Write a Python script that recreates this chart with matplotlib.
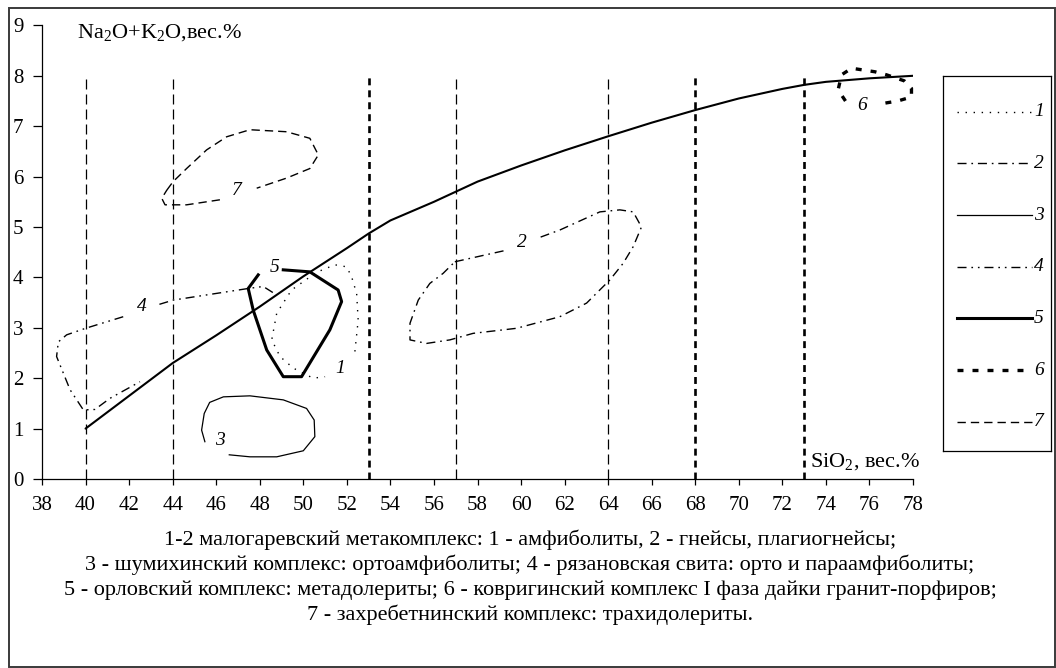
import matplotlib
matplotlib.use("Agg")
import matplotlib.pyplot as plt
from matplotlib.patches import Rectangle

plt.rcParams["font.family"] = ["Liberation Serif", "DejaVu Serif"]
plt.rcParams["mathtext.fontset"] = "custom"
plt.rcParams["mathtext.rm"] = "Liberation Serif"
plt.rcParams["mathtext.it"] = "Liberation Serif:italic"
plt.rcParams["lines.scale_dashes"] = False

nan = float("nan")

# SiO2 boundaries (wt.%), drawn up to 8 wt.% alkalis
thin_bounds = [40, 44, 57, 64]
thick_bounds = [53, 68, 73]
bound_top = 8

# alkali trend line
trend_si = [40, 42, 44, 46, 48, 50, 52, 53, 54, 56, 57, 58, 60, 62, 64, 66, 68, 70, 72, 73, 74, 76, 78]
trend_alk = [1.0, 1.65, 2.3, 2.85, 3.42, 4.02, 4.58, 4.87, 5.13, 5.5, 5.7, 5.9, 6.22, 6.52, 6.8, 7.07, 7.32,
             7.55, 7.74, 7.82, 7.88, 7.95, 8.0]

# 1 - amphibolites
f1_si = [52.37, 52.52, 52.45, 52.22, 51.99, 51.45, 50.6, 49.46, 48.78, 48.55, 48.93, 49.54, 50.45, 51.0]
f1_alk = [2.53, 3.15, 3.68, 4.01, 4.21, 4.25, 4.1, 3.75, 3.29, 2.76, 2.43, 2.2, 2.0, 2.03]

# 2 - gneisses
f2_si = [56.96, 59.33, nan, 60.9, 61.78, 63.62, 64.54, 65.15, 65.53, 65.15, 64.69, 64.08, 63.01, 61.78,
         59.79, 57.8, 56.73, 55.66, 54.9, 54.9, 55.28, 55.81, 56.42, 56.96]
f2_alk = [4.31, 4.54, nan, 4.8, 4.94, 5.3, 5.34, 5.3, 5.0, 4.61, 4.28, 3.95, 3.49, 3.22,
          2.99, 2.89, 2.76, 2.69, 2.76, 3.09, 3.55, 3.88, 4.08, 4.31]

# 3 - orthoamphibolites
f3_si = [45.48, 45.33, 45.45, 45.7, 46.33, 47.55, 49.08, 50.15, 50.5, 50.53, 50.0, 48.78, 47.55, 46.6]
f3_alk = [0.74, 0.97, 1.3, 1.52, 1.63, 1.65, 1.57, 1.4, 1.17, 0.84, 0.56, 0.44, 0.44, 0.48]

# 4 - ortho- and para-amphibolites
f4_si = [48.6, 48.16, 47.47, 44.03, 43.27, nan, 41.73, 40.0, 39.13, 38.75, 38.67, 39.29, 39.9, 40.43,
         41.12, 42.5]
f4_alk = [3.7, 3.82, 3.78, 3.55, 3.45, nan, 3.22, 2.99, 2.86, 2.72, 2.43, 1.77, 1.37, 1.38, 1.6, 1.93]

# 5 - metadolerites
f5_si = [49.08, 50.3, 51.6, 51.76, 51.22, 49.92, 49.08, 48.32, 47.7, 47.47, 47.93]
f5_alk = [4.15, 4.11, 3.75, 3.52, 2.96, 2.03, 2.03, 2.56, 3.35, 3.78, 4.05]

# 6 - granite-porphyry dykes
f6_si = [74.9, 74.56, 74.72, 75.18, 76.25, 76.78, 77.6, 77.93, 77.93, 77.3, 76.6]
f6_alk = [7.5, 7.72, 8.02, 8.15, 8.08, 8.02, 7.9, 7.75, 7.58, 7.5, 7.45]

# 7 - trachydolerites
f7_si = [43.73, 44.02, 44.64, 45.56, 46.48, 47.55, 49.23, 50.3, 50.69, 50.3, 49.23, 47.86, nan,
         46.17, 44.64, 43.65, 43.5, 43.73]
f7_alk = [5.73, 5.9, 6.16, 6.53, 6.79, 6.93, 6.89, 6.76, 6.43, 6.16, 5.97, 5.77, nan,
          5.54, 5.44, 5.44, 5.57, 5.73]

field_names = ["1", "2", "3", "4", "5", "6", "7"]
field_si = [f1_si, f2_si, f3_si, f4_si, f5_si, f6_si, f7_si]
field_alk = [f1_alk, f2_alk, f3_alk, f4_alk, f5_alk, f6_alk, f7_alk]
label_si = [51.7, 60.05, 46.15, 42.6, 48.7, 75.64, 46.94]
label_alk = [2.2, 4.7, 0.76, 3.42, 4.2, 7.42, 5.73]

styles = [
    dict(lw=1.0, ls=(0, (1.0, 4.8))),
    dict(lw=1.0, ls=(0, (6.5, 3.5, 1.2, 3.5))),
    dict(lw=0.9, ls="-"),
    dict(lw=1.0, ls=(0, (6.5, 3.5, 1.2, 3.5, 1.2, 3.5))),
    dict(lw=2.2, ls="-"),
    dict(lw=2.4, ls=(0, (4.3, 6.5))),
    dict(lw=1.0, ls=(0, (6.0, 3.6))),
]

ticks_x = list(range(38, 79, 2))
ticks_y = list(range(0, 10))

caption = [
    "1-2 малогаревский метакомплекс: 1 - амфиболиты, 2 - гнейсы, плагиогнейсы;",
    "3 - шумихинский комплекс: ортоамфиболиты; 4 - рязановская свита: орто и параамфиболиты;",
    "5 - орловский комплекс: метадолериты; 6 - ковригинский комплекс I фаза дайки гранит-порфиров;",
    "7 - захребетнинский комплекс: трахидолериты.",
]

W, H = 1056, 668


def px_box(x0, y0, w, h):
    return [x0 / W, 1 - (y0 + h) / H, w / W, h / H]


fig = plt.figure(figsize=(W / 100, H / 100), dpi=100)
fig.patches.append(Rectangle((9 / W, 1 / H), 1046 / W, 659 / H, transform=fig.transFigure,
                             fill=False, lw=1.4, ec="#3a3a3a"))

ax = fig.add_axes(px_box(42, 25.4, 871, 453.6))
ax.set_xlim(38, 78)
ax.set_ylim(0, 9)
ax.set_xticks(ticks_x)
ax.set_yticks(ticks_y)
for s in ["top", "right"]:
    ax.spines[s].set_visible(False)
for s in ["left", "bottom"]:
    ax.spines[s].set_linewidth(0.9)
ax.tick_params(axis="y", direction="out", length=6.3, width=0.9, pad=7, labelsize=15)
ax.tick_params(axis="x", direction="out", length=4.3, width=0.9, pad=8, labelsize=15)

for x in thin_bounds:
    ax.plot([x, x], [0, bound_top], color="k", lw=0.9, ls=(0, (7.2, 3.6)), clip_on=False)
for x in thick_bounds:
    ax.plot([x, x], [0, bound_top], color="k", lw=1.9, ls=(0, (5.0, 3.6)), clip_on=False)

ax.plot(trend_si, trend_alk, color="k", lw=1.5, solid_capstyle="round")

for si, alk, st in zip(field_si, field_alk, styles):
    ax.plot(si, alk, color="k", clip_on=False, **st)

for name, x, y in zip(field_names, label_si, label_alk):
    ax.text(x, y, name, style="italic", fontsize=14, ha="center", va="center")

fig.text(77 / W, 1 - 33 / H, r"Na$_2$O+K$_2$O,вес.%", fontsize=16, ha="left", va="center")
fig.text(810 / W, 1 - 462 / H, r"SiO$_2$, вес.%", fontsize=16, ha="left", va="center")

# legend box
lax = fig.add_axes(px_box(943, 76, 108, 375))
lax.set_xlim(0, 108)
lax.set_ylim(375, 0)
lax.set_xticks([])
lax.set_yticks([])
for s in lax.spines.values():
    s.set_linewidth(0.9)
for i, (name, st) in enumerate(zip(field_names, styles)):
    y = 35.7 + i * 51.67
    lax.plot([14, 89], [y, y], color="k", **st)
    lax.text(91, y, name, style="italic", fontsize=14, ha="left", va="center")

for i, line in enumerate(caption):
    fig.text(530 / W, 1 - (540 + i * 25) / H, line, fontsize=16, ha="center", va="center")

fig.savefig("out.png", dpi=100)
